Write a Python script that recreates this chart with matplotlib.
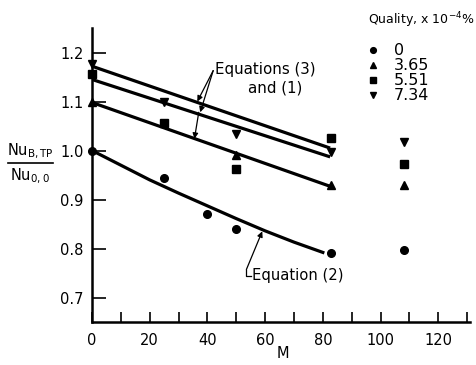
import numpy as np
import matplotlib
matplotlib.use('Agg')
import matplotlib.pyplot as plt
from matplotlib.ticker import MultipleLocator

plt.rcParams['font.family'] = ['DejaVu Sans']
plt.rcParams['mathtext.default'] = 'regular'

# measured data, Nu ratio vs M for each quality
q0_M = [0, 25, 40, 50, 83, 108]
q0_nu = [1.0, 0.943, 0.87, 0.84, 0.79, 0.796]
q365_M = [0, 50, 83, 108]
q365_nu = [1.10, 0.99, 0.93, 0.93]
q551_M = [0, 25, 50, 83, 108]
q551_nu = [1.157, 1.057, 0.963, 1.025, 0.973]
q734_M = [0, 25, 50, 83, 108]
q734_nu = [1.176, 1.10, 1.033, 0.996, 1.018]
labels = ['0', '3.65', '5.51', '7.34']

# correlation curves
eq31_M = [0, 82]
eq31a_nu = [1.172, 1.006]
eq31b_nu = [1.145, 0.988]
eq31c_nu = [1.098, 0.928]
eq2_M = [0, 10, 20, 30, 40, 50, 60, 70, 80]
eq2_nu = [1.0, 0.97, 0.94, 0.913, 0.887, 0.861, 0.836, 0.813, 0.792]

fig = plt.figure(figsize=(4.77, 3.65), dpi=100)
ax = fig.add_axes([92/477, 1-322/365, (470-92)/477, (322-28)/365])

lw = 2.3
ax.plot(eq31_M, eq31a_nu, color='k', lw=lw)
ax.plot(eq31_M, eq31b_nu, color='k', lw=lw)
ax.plot(eq31_M, eq31c_nu, color='k', lw=lw)
ax.plot(eq2_M, eq2_nu, color='k', lw=lw)

ms = 5.5
h0, = ax.plot(q0_M, q0_nu, 'o', color='k', ms=ms, ls='none', clip_on=False)
h1, = ax.plot(q365_M, q365_nu, '^', color='k', ms=ms, ls='none', clip_on=False)
h2, = ax.plot(q551_M, q551_nu, 's', color='k', ms=ms, ls='none', clip_on=False)
h3, = ax.plot(q734_M, q734_nu, 'v', color='k', ms=ms, ls='none', clip_on=False)

ax.set_xlim(0, 131)
ax.set_ylim(0.65, 1.25)
ax.spines['top'].set_visible(False)
ax.spines['right'].set_visible(False)
ax.spines['left'].set_linewidth(1.8)
ax.spines['bottom'].set_linewidth(1.8)

ax.xaxis.set_major_locator(MultipleLocator(20))
ax.xaxis.set_minor_locator(MultipleLocator(10))
ax.set_yticks([0.7, 0.8, 0.9, 1.0, 1.1, 1.2])
ax.set_yticklabels(['0.7', '0.8', '0.9', '1.0', '1.1', '1.2'])
ax.tick_params(axis='x', which='both', direction='in', length=7, width=1.2, labelsize=10.5, pad=8)
ax.tick_params(axis='y', direction='in', length=10, width=1.2, labelsize=10.5, pad=6)
fig.text(283/477, 1-353/365, 'M', fontsize=10.5, ha='center', va='center')

# annotations
arrow = dict(arrowstyle='-|>', color='k', lw=0.9, mutation_scale=8, shrinkA=0, shrinkB=0)
ax.annotate('', xy=(36.5, 1.100), xytext=(42, 1.163), arrowprops=arrow)
ax.annotate('', xy=(37.5, 1.078), xytext=(42, 1.163), arrowprops=arrow)
ax.annotate('', xy=(35.5, 1.024), xytext=(37.0, 1.078), arrowprops=arrow)
ax.text(42.5, 1.165, 'Equations (3)', fontsize=10.8, va='center', ha='left')
ax.text(54, 1.128, 'and (1)', fontsize=10.8, va='center', ha='left')

ax.annotate('', xy=(59, 0.835), xytext=(53.5, 0.757), arrowprops=arrow)
ax.plot([53.5, 53.5, 55], [0.757, 0.744, 0.744], color='k', lw=0.9)
ax.text(55.3, 0.745, 'Equation (2)', fontsize=10.6, va='center', ha='left')

# y label as fraction
fig.text(30/477, 1-151/365, 'Nu$_{B,TP}$', fontsize=10.5, ha='center', va='center')
fig.add_artist(plt.Line2D([8/477, 53/477], [1-163/365, 1-163/365], color='k', lw=1.2))
fig.text(30/477, 1-176/365, 'Nu$_{0,0}$', fontsize=10.5, ha='center', va='center')

# legend
fig.text(368/477, 1-20/365, 'Quality, x 10$^{-4}$%', fontsize=9, ha='left', va='center')
leg = ax.legend([h0, h1, h2, h3], labels, loc='upper left',
                bbox_to_anchor=(357/477, 1-32/365), bbox_transform=fig.transFigure,
                frameon=False, fontsize=11.5,
                handlelength=0.6, handletextpad=1.0, labelspacing=0.0,
                markerscale=0.75, borderpad=0.2)

fig.savefig('out.png', dpi=100)
